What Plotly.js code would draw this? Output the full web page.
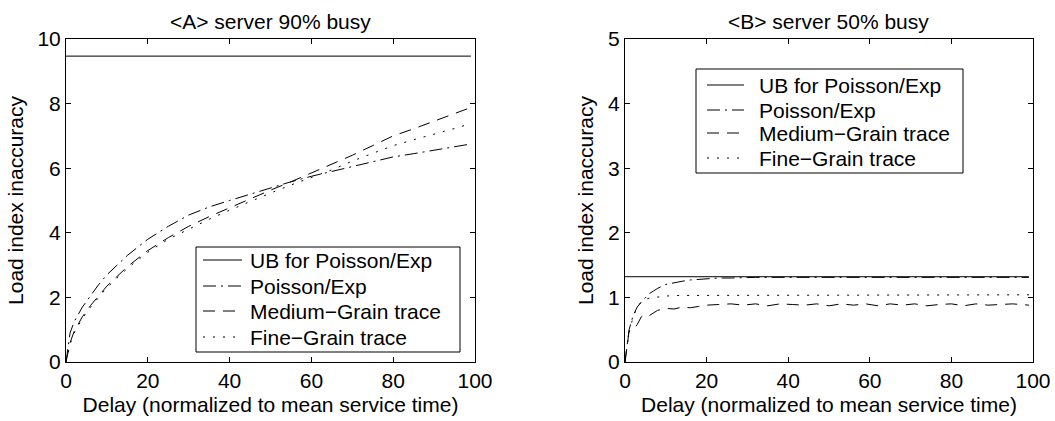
<!DOCTYPE html>
<html><head><meta charset="utf-8">
<script src="https://cdn.plot.ly/plotly-3.0.1.min.js"></script>
<style>html,body{margin:0;padding:0;background:#fff}</style>
</head><body><div id="chart" style="width:1055px;height:421px"></div>
<script>
// ---- data ----
const seriesNames = ['UB for Poisson/Exp', 'Poisson/Exp', 'Medium\u2212Grain trace', 'Fine\u2212Grain trace'];
const panelTitles = ['<A> server 90% busy', '<B> server 50% busy'];
const xLabel = 'Delay (normalized to mean service time)';
const yLabel = 'Load index inaccuracy';

// Panel A: server 90% busy
const xUB = [0, 99];
const ubA = [9.47, 9.47];
const xA = [0, 1, 2, 4, 6, 8, 10, 15, 20, 25, 30, 35, 40, 45, 50, 55, 60, 65, 70, 75, 80, 85, 90, 95, 99];
const poissonA = [0, 0.9, 1.25, 1.7, 2.05, 2.4, 2.7, 3.3, 3.8, 4.2, 4.55, 4.8, 5.0, 5.2, 5.4, 5.58, 5.75, 5.9, 6.05, 6.2, 6.35, 6.45, 6.55, 6.65, 6.75];
const mediumA = [0, 0.6, 0.95, 1.4, 1.75, 2.05, 2.35, 2.95, 3.45, 3.85, 4.2, 4.5, 4.78, 5.05, 5.32, 5.58, 5.85, 6.12, 6.4, 6.7, 7.0, 7.22, 7.45, 7.68, 7.88];
const fineA = [0, 0.55, 0.9, 1.35, 1.7, 2.0, 2.3, 2.9, 3.4, 3.8, 4.12, 4.42, 4.7, 4.97, 5.23, 5.48, 5.72, 5.95, 6.22, 6.45, 6.7, 6.88, 7.05, 7.23, 7.38];

// Panel B: server 50% busy
const ubB = [1.32, 1.32];
const xB = [0, 1, 2, 3, 4, 5, 6, 7, 8, 10, 12, 14, 16, 18, 20, 23, 26, 29, 32, 35, 38, 41, 44, 47, 50, 53, 56, 59, 62, 65, 68, 71, 74, 77, 80, 83, 86, 89, 92, 95, 99];
const poissonB = [0, 0.5, 0.72, 0.85, 0.93, 1.0, 1.06, 1.1, 1.14, 1.2, 1.23, 1.25, 1.27, 1.28, 1.29, 1.3, 1.3, 1.31, 1.31, 1.31, 1.31, 1.31, 1.31, 1.31, 1.31, 1.31, 1.31, 1.31, 1.31, 1.31, 1.31, 1.31, 1.31, 1.31, 1.31, 1.31, 1.31, 1.31, 1.31, 1.31, 1.31];
const mediumB = [0, 0.48, 0.5, 0.58, 0.7, 0.74, 0.72, 0.76, 0.8, 0.83, 0.82, 0.85, 0.84, 0.86, 0.88, 0.89, 0.9, 0.88, 0.9, 0.87, 0.9, 0.89, 0.88, 0.9, 0.87, 0.9, 0.88, 0.9, 0.87, 0.9, 0.88, 0.9, 0.87, 0.89, 0.9, 0.87, 0.9, 0.88, 0.89, 0.9, 0.88];
const fineB = [0, 0.45, 0.7, 0.85, 0.93, 0.97, 0.99, 1.0, 1.01, 1.02, 1.03, 1.03, 1.03, 1.04, 1.04, 1.04, 1.04, 1.04, 1.04, 1.04, 1.04, 1.04, 1.04, 1.04, 1.04, 1.04, 1.04, 1.04, 1.04, 1.04, 1.04, 1.04, 1.04, 1.04, 1.04, 1.04, 1.04, 1.04, 1.04, 1.04, 1.04];

// ---- styling ----
const FONT = 'Liberation Sans, Arial, Helvetica, sans-serif';
const FS = 21;
const W = 1055, H = 421, ML = 66, MR = 22, MT = 39, MB = 59;
const PW = W - ML - MR, PH = H - MT - MB;
const dashes = ['solid', '13px,5px,2px,5px', '12px,8px', '2px,8px'];
const esc = s => s.replace(/&/g, '&amp;').replace(/</g, '&lt;').replace(/>/g, '&gt;');
const px2x = p => (p - ML) / PW;
const py2y = p => (H - MB - p) / PH;

function line(x, y, k, xa, ya) {
  return {x: x, y: y, type: 'scatter', mode: 'lines', name: seriesNames[k],
    xaxis: xa, yaxis: ya, showlegend: false, hoverinfo: 'skip',
    line: {color: '#000', width: 1, dash: dashes[k]}};
}

const traces = [
  line(xUB, ubA, 0, 'x', 'y'),
  line(xA, poissonA, 1, 'x', 'y'),
  line(xA, mediumA, 2, 'x', 'y'),
  line(xA, fineA, 3, 'x', 'y'),
  line(xUB, ubB, 0, 'x2', 'y2'),
  line(xB, poissonB, 1, 'x2', 'y2'),
  line(xB, mediumB, 2, 'x2', 'y2'),
  line(xB, fineB, 3, 'x2', 'y2')
];

const axisBase = {showline: true, linecolor: '#000', linewidth: 1, mirror: 'allticks',
  ticks: 'inside', ticklen: 5, tickcolor: '#000', tickwidth: 1, showgrid: false,
  zeroline: false, tickfont: {family: FONT, size: FS, color: '#000'}, fixedrange: true};

const dA = [0, (475 - ML) / PW], dB = [(625 - ML) / PW, 1];

const layout = {
  width: W, height: H, margin: {l: ML, r: MR, t: MT, b: MB},
  paper_bgcolor: '#fff', plot_bgcolor: '#fff', showlegend: false,
  font: {family: FONT, size: FS, color: '#000'},
  xaxis: Object.assign({}, axisBase, {domain: dA, range: [0, 100], dtick: 20, tick0: 0,
    title: {text: xLabel, font: {family: FONT, size: FS}, standoff: 6}, anchor: 'y'}),
  yaxis: Object.assign({}, axisBase, {domain: [0, 1], range: [0, 10], dtick: 2, tick0: 0,
    title: {text: yLabel, font: {family: FONT, size: FS}, standoff: 8}, anchor: 'x'}),
  xaxis2: Object.assign({}, axisBase, {domain: dB, range: [0, 100], dtick: 20, tick0: 0,
    title: {text: xLabel, font: {family: FONT, size: FS}, standoff: 6}, anchor: 'y2'}),
  yaxis2: Object.assign({}, axisBase, {domain: [0, 1], range: [0, 5], dtick: 1, tick0: 0,
    title: {text: yLabel, font: {family: FONT, size: FS}, standoff: 8}, anchor: 'x2'}),
  annotations: [], shapes: []
};

// panel titles
[[dA, 0], [dB, 1]].forEach(([d, i]) => {
  layout.annotations.push({xref: 'paper', yref: 'paper', x: (d[0] + d[1]) / 2, y: py2y(21),
    xanchor: 'center', yanchor: 'middle', showarrow: false, text: esc(panelTitles[i]),
    font: {family: FONT, size: FS, color: '#000'}});
});

// legends (boxes drawn in pixel positions)
function legend(box, sampleX0, sampleX1, textX, rows) {
  layout.shapes.push({type: 'rect', xref: 'paper', yref: 'paper',
    x0: px2x(box[0]), x1: px2x(box[1]), y0: py2y(box[2]), y1: py2y(box[3]),
    line: {color: '#000', width: 1}, fillcolor: '#fff', layer: 'above'});
  seriesNames.forEach((nm, k) => {
    const yy = py2y(box[2] + rows[k]);
    layout.shapes.push({type: 'line', xref: 'paper', yref: 'paper',
      x0: px2x(box[0] + sampleX0), x1: px2x(box[0] + sampleX1), y0: yy, y1: yy,
      line: {color: '#000', width: 1, dash: dashes[k]}, layer: 'above'});
    layout.annotations.push({xref: 'paper', yref: 'paper', x: px2x(box[0] + textX), y: yy,
      xanchor: 'left', yanchor: 'middle', showarrow: false, text: esc(nm),
      font: {family: FONT, size: FS, color: '#000'}});
  });
}
legend([196, 460, 247, 352], 7, 46, 52, [13, 39, 64, 90]);
legend([696, 963, 69, 173], 11, 48, 61, [16, 41, 64, 89]);

Plotly.newPlot('chart', traces, layout, {displayModeBar: false, staticPlot: true});
</script></body></html>
